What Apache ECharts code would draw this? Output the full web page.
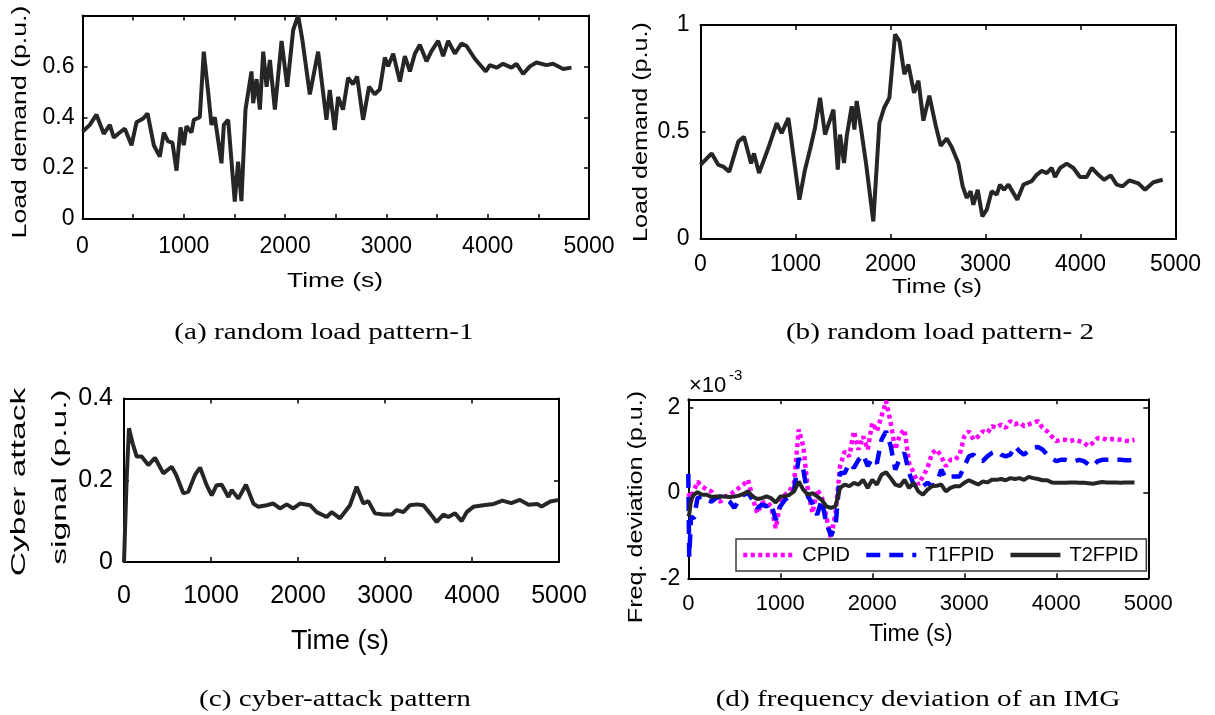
<!DOCTYPE html>
<html>
<head>
<meta charset="utf-8">
<script src="https://cdn.jsdelivr.net/npm/echarts@6.0.0/dist/echarts.min.js"></script>
<style>
  html, body { margin: 0; padding: 0; background: #fff; }
  #main { width: 1215px; height: 715px; }
</style>
</head>
<body>
<div id="main"></div>
<script>
// (a) random load pattern-1
var loadT1 = [0, 72, 138, 210, 270, 309, 368, 418, 484, 533, 599, 642, 704, 763, 803, 845, 888, 928, 968, 1000,
  1026, 1076, 1099, 1158, 1197, 1240, 1273, 1306, 1372, 1395, 1438, 1503, 1536, 1569, 1609, 1668, 1685, 1718, 1751, 1784,
  1817, 1850, 1899, 1965, 2021, 2080, 2129, 2172, 2244, 2326, 2408, 2441, 2490, 2523, 2572, 2622, 2671, 2711, 2770, 2829,
  2885, 2935, 2985, 3017, 3067, 3133, 3182, 3232, 3281, 3330, 3396, 3445, 3511, 3560, 3610, 3676, 3741, 3791, 3873, 3981,
  4021, 4087, 4152, 4235, 4284, 4350, 4416, 4481, 4580, 4646, 4745, 4827];
var load1 = [0.343, 0.37, 0.41, 0.335, 0.37, 0.32, 0.34, 0.355, 0.29, 0.38, 0.395, 0.415, 0.29, 0.245, 0.34, 0.305, 0.30, 0.19, 0.36, 0.29,
  0.365, 0.34, 0.39, 0.40, 0.658, 0.50, 0.37, 0.40, 0.219, 0.37, 0.39, 0.068, 0.225, 0.07, 0.43, 0.58, 0.455, 0.55, 0.43, 0.658,
  0.52, 0.625, 0.43, 0.70, 0.52, 0.743, 0.80, 0.70, 0.49, 0.658, 0.39, 0.507, 0.35, 0.48, 0.43, 0.555, 0.53, 0.56, 0.39, 0.52,
  0.49, 0.51, 0.635, 0.60, 0.65, 0.54, 0.64, 0.58, 0.65, 0.685, 0.62, 0.66, 0.70, 0.64, 0.70, 0.65, 0.69, 0.68, 0.63, 0.58,
  0.605, 0.595, 0.61, 0.595, 0.61, 0.57, 0.60, 0.615, 0.605, 0.61, 0.59, 0.595];

// (b) random load pattern- 2
var loadT2 = [0, 118, 188, 240, 303, 398, 458, 532, 563, 616, 714, 802, 854, 925, 1041, 1100, 1153, 1205, 1258, 1311,
  1399, 1445, 1469, 1511, 1539, 1592, 1620, 1644, 1686, 1742, 1819, 1883, 1932, 1988, 2048, 2094, 2146, 2188, 2248, 2294,
  2346, 2409, 2480, 2529, 2592, 2644, 2714, 2760, 2802, 2844, 2872, 2918, 2967, 3013, 3065, 3118, 3153, 3195, 3241, 3335,
  3399, 3486, 3539, 3592, 3645, 3697, 3732, 3785, 3855, 3925, 3995, 4065, 4118, 4188, 4248, 4318, 4381, 4444, 4514, 4609,
  4679, 4767, 4865];
var load2 = [0.346, 0.40, 0.346, 0.338, 0.315, 0.455, 0.478, 0.353, 0.40, 0.308, 0.425, 0.542, 0.495, 0.565, 0.184, 0.324, 0.418, 0.519, 0.66, 0.488,
  0.605, 0.324, 0.488, 0.355, 0.48, 0.62, 0.511, 0.645, 0.527, 0.355, 0.082, 0.542, 0.612, 0.66, 0.956, 0.925, 0.77, 0.815, 0.683, 0.74,
  0.553, 0.67, 0.522, 0.436, 0.47, 0.43, 0.355, 0.246, 0.192, 0.223, 0.16, 0.23, 0.106, 0.137, 0.223, 0.207, 0.254, 0.23, 0.254, 0.184,
  0.254, 0.27, 0.30, 0.318, 0.308, 0.332, 0.29, 0.332, 0.352, 0.332, 0.29, 0.29, 0.332, 0.30, 0.277, 0.297, 0.254, 0.246, 0.274, 0.26,
  0.23, 0.265, 0.277];

// (c) cyber-attack pattern
var attackT = [0, 30, 57, 100, 146, 203, 280, 356, 452, 548, 600, 682, 739, 816, 874, 950, 1008, 1065, 1123, 1200,
  1238, 1314, 1402, 1487, 1544, 1640, 1716, 1793, 1870, 1946, 2023, 2138, 2215, 2330, 2387, 2483, 2598, 2674, 2751, 2808,
  2885, 2981, 3077, 3134, 3211, 3287, 3364, 3441, 3518, 3594, 3671, 3728, 3805, 3881, 3939, 4015, 4130, 4250, 4350, 4450,
  4550, 4650, 4750, 4800, 4900, 5000];
var attack = [0, 0.2, 0.327, 0.29, 0.258, 0.258, 0.237, 0.255, 0.217, 0.233, 0.213, 0.168, 0.172, 0.213, 0.231, 0.188, 0.163, 0.188, 0.189, 0.159,
  0.176, 0.155, 0.189, 0.143, 0.135, 0.139, 0.143, 0.131, 0.141, 0.131, 0.143, 0.139, 0.122, 0.11, 0.122, 0.107, 0.139, 0.184, 0.143, 0.149,
  0.119, 0.116, 0.116, 0.127, 0.122, 0.139, 0.141, 0.139, 0.119, 0.098, 0.116, 0.11, 0.119, 0.10, 0.122, 0.135, 0.139, 0.142, 0.15, 0.144,
  0.152, 0.14, 0.142, 0.136, 0.148, 0.152];

// (d) frequency deviation of an IMG (x10^-3 p.u.)
var freqT = [0, 10, 30, 60, 100];
for (var t = 150; t <= 4850; t += 50) freqT.push(t);
var cpid = [0, -0.05, -0.2, 0.05, 0.27,
  0.16, 0.08, 0.04, -0.16, -0.2, -0.08, -0.04, 0.04, 0.12, 0.2,
  0.31, -0.12, -0.47, -0.24, -0.2, -0.31, -0.82, -0.24, -0.04, 0.04,
  0.24, 1.49, 1.1, 0.08, -0.47, 0.08, -0.08, -0.55, -1.06, -0.47,
  0.63, 0.98, 0.86, 1.45, 1.02, 1.33, 1.02, 1.65, 1.45, 1.8,
  2.16, 1.65, 1.02, 1.37, 1.49, 0.7, 0.47, 0.2, 0.39, 0.59,
  0.94, 1.02, 0.86, 0.63, 0.78, 0.78, 0.9, 1.33, 1.45, 1.25,
  1.33, 1.45, 1.41, 1.57, 1.53, 1.61, 1.53, 1.69, 1.61, 1.65,
  1.57, 1.61, 1.65, 1.69, 1.53, 1.45, 1.33, 1.22, 1.25, 1.25,
  1.22, 1.25, 1.22, 1.18, 1.1, 1.18, 1.29, 1.29, 1.25, 1.27,
  1.26, 1.25, 1.23, 1.22, 1.25];
var t1fpid = [0.45, -1.5, -0.55, -0.6, -0.12,
  -0.08, -0.16, -0.2, -0.12, -0.08, -0.12, -0.2, -0.35, -0.16, -0.04,
  0, -0.16, -0.35, -0.27, -0.31, -0.24, -0.63, -0.31, -0.16, -0.08,
  0.08, 0.82, 0.55, -0.08, -0.24, -0.51, -0.16, -0.7, -1.0, -0.78,
  0.47, 0.47, 0.7, 0.59, 0.78, 0.9, 0.63, 0.82, 0.7, 1.25,
  1.45, 1.1, 0.55, 0.82, 0.94, 0.47, 0.2, 0.12, 0.16, 0.24,
  0.16, 0.24, 0.55, 0.35, 0.39, 0.39, 0.39, 0.63, 0.86, 0.9,
  0.78, 0.75, 0.86, 0.94, 0.98, 0.9, 0.86, 0.9, 1.1, 0.98,
  0.9, 1.0, 1.06, 1.08, 1.02, 0.9, 0.82, 0.75, 0.78, 0.78,
  0.75, 0.75, 0.78, 0.75, 0.67, 0.63, 0.75, 0.78, 0.78, 0.78,
  0.78, 0.78, 0.77, 0.77, 0.78];
var t2fpid = [-0.55, -0.5, -0.16, -0.04, 0.02,
  -0.04, -0.04, -0.09, -0.08, -0.08, -0.08, -0.09, -0.08, -0.06, -0.02,
  0.04, -0.08, -0.14, -0.12, -0.08, -0.12, -0.22, -0.08, -0.08, -0.04,
  0.04, 0.27, 0.08, -0.04, 0, -0.08, -0.16, -0.31, -0.35, -0.31,
  0.12, 0.2, 0.16, 0.24, 0.2, 0.31, 0.12, 0.31, 0.2, 0.43,
  0.49, 0.35, 0.2, 0.16, 0.31, 0.12, 0.24, 0.04, -0.04, 0.08,
  0.16, 0.17, 0.2, 0.04, 0.12, 0.16, 0.16, 0.24, 0.3, 0.25,
  0.2, 0.27, 0.25, 0.31, 0.31, 0.33, 0.3, 0.35, 0.33, 0.35,
  0.31, 0.38, 0.35, 0.33, 0.3, 0.3, 0.25, 0.24, 0.24, 0.24,
  0.25, 0.25, 0.24, 0.24, 0.23, 0.22, 0.24, 0.26, 0.25, 0.25,
  0.25, 0.24, 0.25, 0.25, 0.25];

function zip(xs, ys) {
  var out = [];
  for (var i = 0; i < xs.length; i++) out.push([xs[i], ys[i]]);
  return out;
}

var SANS = "'Liberation Sans', Arial, Helvetica, sans-serif";
var SERIF = "'Liberation Serif', 'Times New Roman', serif";
var LINE = '#262626';

// one side of the boxed frame; "show" = labels on
function xAx(grid, pos, max, step, labelStep, fontSize, margin, show) {
  return {
    type: 'value', gridIndex: grid, position: pos, min: 0, max: max, interval: step,
    axisLine: { show: true, onZero: false, lineStyle: { color: '#000', width: 2 } },
    axisTick: { show: true, inside: true, length: 5, lineStyle: { color: '#000', width: 1.5 } },
    axisLabel: {
      show: show, color: '#000', fontSize: fontSize, fontFamily: SANS, margin: margin,
      formatter: function (v) { return (Math.round(v) % labelStep === 0) ? String(Math.round(v)) : ''; }
    },
    splitLine: { show: false }
  };
}
function yAx(grid, pos, min, max, step, hideAbove, fontSize, margin, show) {
  return {
    type: 'value', gridIndex: grid, position: pos, min: min, max: max, interval: step,
    axisLine: { show: true, onZero: false, lineStyle: { color: '#000', width: 2 } },
    axisTick: { show: true, inside: true, length: 5, lineStyle: { color: '#000', width: 1.5 } },
    axisLabel: {
      show: show, color: '#000', fontSize: fontSize, fontFamily: SANS, margin: margin,
      formatter: function (v) { return v > hideAbove + 1e-9 ? '' : String(+v.toFixed(1)); }
    },
    splitLine: { show: false }
  };
}

function txt(x, y, s, size, opts) {
  opts = opts || {};
  return {
    type: 'text', x: x, y: y, rotation: opts.rot || 0,
    scaleX: opts.sx || 1, scaleY: opts.sy || 1, silent: true,
    style: {
      text: s, x: 0, y: 0, fill: '#000',
      font: size + 'px ' + (opts.family || SANS),
      textAlign: opts.align || 'center', textVerticalAlign: 'middle'
    }
  };
}

var chart = echarts.init(document.getElementById('main'));
var option = {
  animation: false,
  backgroundColor: '#fff',
  grid: [
    { left: 82.5, top: 15.5, width: 506.5, height: 203.5 },
    { left: 700.5, top: 25, width: 475, height: 214 },
    { left: 124, top: 398.5, width: 435, height: 163.5 },
    { left: 688.3, top: 399.3, width: 460, height: 179 }
  ],
  xAxis: [
    xAx(0, 'bottom', 5000, 500, 1000, 23, 16, true),
    xAx(0, 'top', 5000, 500, 1000, 23, 16, false),
    xAx(1, 'bottom', 5000, 1000, 1000, 23, 14, true),
    xAx(1, 'top', 5000, 1000, 1000, 23, 14, false),
    xAx(2, 'bottom', 5000, 1000, 1000, 25, 22, true),
    xAx(2, 'top', 5000, 1000, 1000, 25, 22, false),
    xAx(3, 'bottom', 5000, 1000, 1000, 22, 15, true),
    xAx(3, 'top', 5000, 1000, 1000, 22, 15, false)
  ],
  yAxis: [
    yAx(0, 'left', 0, 0.8, 0.2, 0.6, 23, 8, true),
    yAx(0, 'right', 0, 0.8, 0.2, 0.6, 23, 8, false),
    yAx(1, 'left', 0, 1, 0.5, 1, 23, 11, true),
    yAx(1, 'right', 0, 1, 0.5, 1, 23, 11, false),
    yAx(2, 'left', 0, 0.4, 0.2, 0.4, 25, 11, true),
    yAx(2, 'right', 0, 0.4, 0.2, 0.4, 25, 11, false),
    yAx(3, 'left', -2, 2.2, 2, 2, 23, 8, true),
    yAx(3, 'right', -2, 2.2, 2, 2, 23, 8, false)
  ],
  legend: {
    data: ['CPID', 'T1FPID', 'T2FPID'],
    left: 736, top: 539, orient: 'horizontal',
    itemWidth: 50, itemHeight: 14, itemGap: 14,
    padding: [6, 8, 6, 5],
    backgroundColor: '#fff', borderColor: '#3a3a3a', borderWidth: 1.5,
    itemStyle: { opacity: 0 },
    lineStyle: { width: 4.5 },
    textStyle: { color: '#000', fontSize: 20, fontFamily: SANS, padding: [0, 0, 0, 4] }
  },
  series: [
    { type: 'line', xAxisIndex: 0, yAxisIndex: 0, data: zip(loadT1, load1), symbol: 'none',
      lineStyle: { color: LINE, width: 4 } },
    { type: 'line', xAxisIndex: 2, yAxisIndex: 2, data: zip(loadT2, load2), symbol: 'none',
      lineStyle: { color: LINE, width: 4 } },
    { type: 'line', xAxisIndex: 4, yAxisIndex: 4, data: zip(attackT, attack), symbol: 'none',
      lineStyle: { color: LINE, width: 4 } },
    { name: 'CPID', type: 'line', xAxisIndex: 6, yAxisIndex: 6, data: zip(freqT, cpid), symbol: 'none',
      itemStyle: { color: '#ff00ff' },
      lineStyle: { color: '#ff00ff', width: 4.5, type: [4, 3.5], cap: 'butt' } },
    { name: 'T1FPID', type: 'line', xAxisIndex: 6, yAxisIndex: 6, data: zip(freqT, t1fpid), symbol: 'none',
      itemStyle: { color: '#0000ff' },
      lineStyle: { color: '#0000ff', width: 4.5, type: [14, 9], cap: 'butt' } },
    { name: 'T2FPID', type: 'line', xAxisIndex: 6, yAxisIndex: 6, data: zip(freqT, t2fpid), symbol: 'none',
      itemStyle: { color: LINE },
      lineStyle: { color: LINE, width: 4 } }
  ],
  graphic: [
    // axis titles
    txt(20, 122, 'Load demand (p.u.)', 21, { rot: Math.PI / 2, sx: 1.27 }),
    txt(335, 281, 'Time (s)', 21, { sx: 1.26 }),
    txt(641, 132, 'Load demand (p.u.)', 21, { rot: Math.PI / 2, sx: 1.2 }),
    txt(937, 287, 'Time (s)', 21, { sx: 1.18 }),
    txt(19, 482, 'Cyber attack', 21, { rot: Math.PI / 2, sx: 1.6 }),
    txt(60, 477, 'signal (p.u.)', 21, { rot: Math.PI / 2, sx: 1.6 }),
    txt(340, 642, 'Time (s)', 27, {}),
    txt(636, 507, 'Freq. deviation (p.u.)', 20, { rot: Math.PI / 2, sx: 1.26 }),
    txt(911, 635, 'Time (s)', 23, {}),
    txt(689, 386, '\u00d710', 22, { align: 'left' }),
    txt(729, 376, '-3', 15, { align: 'left' }),
    // captions
    txt(324, 333, '(a) random load pattern-1', 23, { family: SERIF, sx: 1.27 }),
    txt(940, 333, '(b) random load pattern- 2', 23, { family: SERIF, sx: 1.27 }),
    txt(335, 700, '(c) cyber-attack pattern', 23, { family: SERIF, sx: 1.27 }),
    txt(918, 700, '(d) frequency deviation of an IMG', 23, { family: SERIF, sx: 1.27 })
  ]
};
option && chart.setOption(option);
</script>
</body>
</html>
